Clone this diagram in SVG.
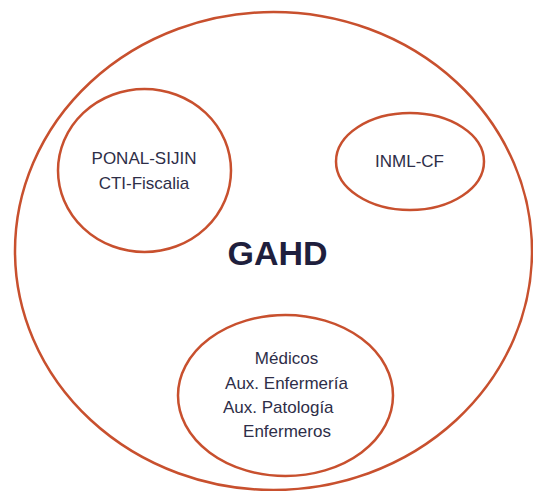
<svg xmlns="http://www.w3.org/2000/svg" width="533" height="491" viewBox="0 0 533 491">
<style>
.sh{fill:none;stroke:#c8502e;stroke-width:2.5}
.t{font-family:"Liberation Sans",Arial,sans-serif;font-size:17px;fill:#2e2e48;text-anchor:middle}
.big{font-family:"Liberation Sans",Arial,sans-serif;font-size:34px;font-weight:bold;fill:#1f1f3d;text-anchor:middle}
</style>
<rect width="533" height="491" fill="#ffffff"/>
<g id="gahd">
<ellipse class="sh" cx="273.5" cy="251" rx="258.5" ry="239"/>
<text class="big" x="277.5" y="265">GAHD</text>
</g>
<g id="ponal">
<ellipse class="sh" cx="144.5" cy="170.5" rx="86.5" ry="81.5"/>
<text class="t" x="144" y="164">PONAL-SIJIN</text>
<text class="t" x="144" y="189">CTI-Fiscalia</text>
</g>
<g id="inml">
<ellipse class="sh" cx="410" cy="161.5" rx="74" ry="48.5"/>
<text class="t" x="409.5" y="167">INML-CF</text>
</g>
<g id="personal">
<ellipse class="sh" cx="285.5" cy="395.5" rx="107.5" ry="80.5"/>
<text class="t" x="286.5" y="364">Médicos</text>
<text class="t" x="286.5" y="389">Aux. Enfermería</text>
<text class="t" x="223" y="413" style="text-anchor:start">Aux. Patología</text>
<text class="t" x="287" y="437">Enfermeros</text>
</g>
<g id="connectors"></g>
</svg>
